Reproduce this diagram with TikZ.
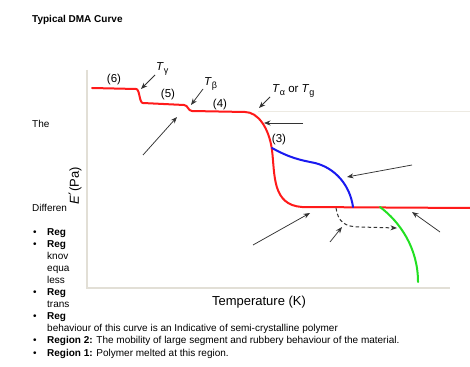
\documentclass[tikz,border=0pt]{standalone}
\usepackage{fontspec}
\setmainfont{Liberation Sans}
\newfontfamily\symfont{DejaVu Sans}
\usetikzlibrary{arrows.meta}
\definecolor{axisgray}{HTML}{E2DFD6}
\definecolor{faint}{HTML}{EDEAE2}
\definecolor{cred}{HTML}{FF1A1A}
\definecolor{cblue}{HTML}{1A1AF0}
\definecolor{cgreen}{HTML}{22E022}
\tikzset{
  txt/.style={anchor=base west, inner sep=0pt, font=\fontsize{10}{12}\selectfont},
  bul/.style={anchor=base west, inner sep=0pt, font=\fontsize{10}{12}\selectfont},
  lbl/.style={inner sep=0pt, font=\fontsize{11.5}{13}\selectfont},
  tlbl/.style={inner sep=0pt, anchor=base west, font=\fontsize{11.5}{13}\selectfont},
  ptr/.style={-{Stealth[length=6.5pt,width=5pt]}, line width=0.75pt, draw=black!80},
  curve/.style={line width=2pt, line cap=round, line join=round},
  axisline/.style={draw=axisgray, line width=1.6pt},
}
\newcommand{\Tsub}[1]{\textit{T}\raisebox{-2.5pt}{\fontsize{9}{10}\selectfont #1}}
\begin{document}
\begin{tikzpicture}[x=1pt,y=-1pt]
\useasboundingbox[fill=white] (0,0) rectangle (470,366);
% page text
\node[txt, font=\fontsize{10}{12}\selectfont\bfseries] (title) at (32,23) {Typical DMA Curve};
\node[txt] (the) at (32,128) {The};
\node[txt] (diff) at (32,211.5) {Differen};
\node[bul] (b1) at (33,235.5) {•};
\node[txt, font=\fontsize{10}{12}\selectfont\bfseries] (r1) at (47,235.5) {Reg};
\node[bul] (b2) at (33,247.5) {•};
\node[txt, font=\fontsize{10}{12}\selectfont\bfseries] (r2) at (47,247.5) {Reg};
\node[txt] (l1) at (47,259.5) {knov};
\node[txt] (l2) at (47,271.5) {equa};
\node[txt] (l3) at (47,283.5) {less};
\node[bul] (b3) at (33,295.5) {•};
\node[txt, font=\fontsize{10}{12}\selectfont\bfseries] (r3) at (47,295.5) {Reg};
\node[txt] (l4) at (47,307.5) {trans};
\node[bul] (b4) at (33,319.5) {•};
\node[txt, font=\fontsize{10}{12}\selectfont\bfseries] (r4) at (47,319.5) {Reg};
\node[txt] (l5) at (47,331.5) {behaviour of this curve is an Indicative of semi-crystalline polymer};
\node[bul] (b5) at (33,343.5) {•};
\node[txt] (l6) at (47,343.5) {\textbf{Region 2:} The mobility of large segment and rubbery behaviour of the material.};
\node[bul] (b6) at (33,356) {•};
\node[txt] (l7) at (47,356) {\textbf{Region 1:} Polymer melted at this region.};
% axes
\coordinate (ytop) at (87,70);
\coordinate (orig) at (87,288);
\coordinate (xend) at (450,288);
\draw[axisline] (ytop) -- (orig) -- (xend);
\coordinate (fl1) at (258,112);
\coordinate (fl2) at (470,112);
\draw[draw=faint, line width=1pt] (fl1) -- (fl2);
\node[inner sep=0pt, rotate=90, font=\fontsize{13}{15}\selectfont] (ylab) at (75,186) {\textit{E}\kern0.6pt{\symfont\fontsize{14}{15}\selectfont ′}(Pa)};
\node[inner sep=0pt, font=\fontsize{13}{15}\selectfont] (xlab) at (259,302) {Temperature (K)};
% curves
\draw[curve, cred] (92,88) -- (136,89) .. controls (140,89) and (139,103) .. (143,103)
  -- (184,105) .. controls (188,105) and (188,111) .. (192,111)
  -- (245,112) .. controls (258,112) and (269,128) .. (272,150)
  .. controls (275,175) and (272,205) .. (302,207) -- (470,208);
\draw[curve, cblue] (272,148) .. controls (290,158) and (300,160) .. (315,163)
  .. controls (335,168) and (350,185) .. (353,207);
\draw[curve, cgreen] (380,207) .. controls (400,222) and (418,248) .. (418,282);
\coordinate (dsA) at (336,208);
\coordinate (dsB) at (397,228);
\draw[line width=1pt, black!80, dashed, dash pattern=on 3.5pt off 2.5pt, -{Stealth[length=6.5pt,width=5pt]}]
  (dsA) .. controls (338,222) and (345,227) .. (360,227) -- (dsB);
% labels
\node[lbl] (n6) at (114,80) {(6)};
\node[lbl] (n5) at (168,95) {(5)};
\node[lbl] (n4) at (220,105) {(4)};
\node[lbl] (n3) at (279,140) {(3)};
\node[tlbl] (tg) at (156,71) {\Tsub{γ}};
\node[tlbl] (tb) at (204,86) {\Tsub{β}};
\node[tlbl] (ta) at (272,93) {\Tsub{α} or \Tsub{g}};
% pointers
\coordinate (a1s) at (155,75);  \coordinate (a1e) at (141,89);
\coordinate (a2s) at (143,155); \coordinate (a2e) at (177,117);
\coordinate (a3s) at (203,89);  \coordinate (a3e) at (191,105);
\coordinate (a4s) at (270,97);  \coordinate (a4e) at (259,108);
\coordinate (a5s) at (303,123); \coordinate (a5e) at (264,123);
\coordinate (a6s) at (412,165); \coordinate (a6e) at (347,177);
\coordinate (a7s) at (253,245); \coordinate (a7e) at (310,213);
\coordinate (a8s) at (330,242); \coordinate (a8e) at (342,227);
\coordinate (a9s) at (440,232); \coordinate (a9e) at (412,212);
\draw[ptr] (a1s) -- (a1e);
\draw[ptr] (a2s) -- (a2e);
\draw[ptr] (a3s) -- (a3e);
\draw[ptr] (a4s) -- (a4e);
\draw[ptr] (a5s) -- (a5e);
\draw[ptr] (a6s) -- (a6e);
\draw[ptr] (a7s) -- (a7e);
\draw[ptr] (a8s) -- (a8e);
\draw[ptr] (a9s) -- (a9e);
\end{tikzpicture}
\end{document}
